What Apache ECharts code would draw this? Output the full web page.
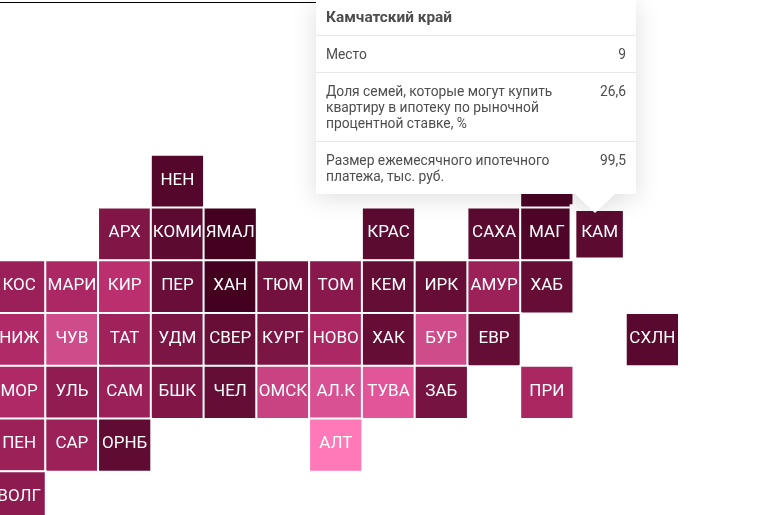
<!DOCTYPE html>
<html>
<head>
<meta charset="utf-8">
<script src="https://cdn.jsdelivr.net/npm/echarts@6/dist/echarts.min.js"></script>
<style>
html, body { margin: 0; padding: 0; background: #fff; overflow: hidden; width: 774px; height: 515px; }
/* the tile map runs past the left and bottom edge of the page */
#chart { position: absolute; left: -20px; top: 0; width: 800px; height: 560px; }
</style>
</head>
<body>
<div id="chart"></div>
<script>
var columns = ['0', '1', '2', '3', '4', '5', '6', '7', '8', '9', '10', '11', '12'];
var rows = ['0', '1', '2', '3', '4', '5', '6'];

var row0Names = [null, null, null, 'НЕН', null, null, null, null, null, null, 'ЧУК'];
var row0Values = [null, null, null, 24.5, null, null, null, null, null, null, 22];
var row1Names = [null, null, 'АРХ', 'КОМИ', 'ЯМАЛ', null, null, 'КРАС', null, 'САХА', 'МАГ', 'КАМ'];
var row1Values = [null, null, 30.5, 26.6, 20, null, null, 26.5, null, 26.5, 23, 26.6];
var row2Names = ['КОС', 'МАРИ', 'КИР', 'ПЕР', 'ХАН', 'ТЮМ', 'ТОМ', 'КЕМ', 'ИРК', 'АМУР', 'ХАБ'];
var row2Values = [33.5, 37, 40, 28, 20, 29, 31.5, 27.5, 27.6, 34, 27.6];
var row3Names = ['НИЖ', 'ЧУВ', 'ТАТ', 'УДМ', 'СВЕР', 'КУРГ', 'НОВО', 'ХАК', 'БУР', 'ЕВР', null, null, 'СХЛН'];
var row3Values = [38, 46.7, 34.5, 30, 27.8, 30, 37, 27.6, 46.7, 27.5, null, null, 26];
var row4Names = ['МОР', 'УЛЬ', 'САМ', 'БШК', 'ЧЕЛ', 'ОМСК', 'АЛ.К', 'ТУВА', 'ЗАБ', null, 'ПРИ'];
var row4Values = [37.5, 32.3, 33.5, 30.5, 27.5, 44.5, 50, 53, 29.5, null, 36.5];
var row5Names = ['ПЕН', 'САР', 'ОРНБ', null, null, null, 'АЛТ'];
var row5Values = [34, 34, 27, null, null, null, 60];
var row6Names = ['ВОЛГ'];
var row6Values = [32];

var allNames = [row0Names, row1Names, row2Names, row3Names, row4Names, row5Names, row6Names];
var allValues = [row0Values, row1Values, row2Values, row3Values, row4Values, row5Values, row6Values];

var tipTitle = 'Камчатский край';
var tipLabels = ['Место', 'Доля семей, которые могут купить квартиру в ипотеку по рыночной процентной ставке, %', 'Размер ежемесячного ипотечного платежа, тыс. руб.'];
var tipValues = ['9', '26,6', '99,5'];

var cells = [];
allNames.forEach(function (names, r) {
    names.forEach(function (name, c) {
        if (name === null) { return; }
        var cell = { name: name, value: [c, r, allValues[r][c]] };
        // hovered tile is drawn a bit smaller
        if (name === 'КАМ') {
            cell.itemStyle = { borderWidth: 6.75, borderColor: '#fff' };
        }
        cells.push(cell);
    });
});

function tipHtml() {
    var html = '<div style="font-weight:700;font-size:15.4px;padding:8px 10px 9px 10px;line-height:18px;">' + tipTitle + '</div>';
    tipLabels.forEach(function (label, i) {
        html += '<div style="display:flex;justify-content:space-between;border-top:1px solid #e8e8e8;padding:10px 10px 10px 10px;line-height:16px;">'
            + '<div style="width:240px;white-space:normal;">' + label + '</div><div>' + tipValues[i] + '</div></div>';
    });
    html += '<div style="position:absolute;left:259px;top:194px;width:0;height:0;border-left:20.5px solid transparent;border-right:20.5px solid transparent;border-top:19px solid #fff;"></div>';
    return html;
}

var chart = echarts.init(document.getElementById('chart'));

var option = {
    animation: false,
    graphic: [{
        type: 'line',
        silent: true,
        shape: { x1: 20, y1: 2.5, x2: 340, y2: 2.5 },
        style: { stroke: '#000', lineWidth: 1 }
    }],
    grid: { left: 12.75, top: 155, width: 686, height: 369.25 },
    tooltip: {
        trigger: 'item',
        alwaysShowContent: true,
        transitionDuration: 0,
        padding: 0,
        borderWidth: 0,
        backgroundColor: '#fff',
        textStyle: { fontFamily: 'Roboto', fontSize: 13.8, color: '#4d4d4d' },
        extraCssText: 'width:320px;height:194px;border-radius:0;box-shadow:none;filter:drop-shadow(0 4px 12px rgba(0,0,0,0.13));',
        position: function () { return [336, 0]; },
        formatter: tipHtml
    },
    visualMap: {
        show: false,
        min: 20,
        max: 60,
        dimension: 2,
        inRange: { color: ['#44001f', '#5c0a30', '#9a1f57', '#bb2f6f', '#cf4c8b', '#e4559a', '#ff78b8'] }
    },
    xAxis: { type: 'category', data: columns, show: false, splitArea: { show: false } },
    yAxis: { type: 'category', data: rows, inverse: true, show: false, splitArea: { show: false } },
    series: [{
        type: 'heatmap',
        data: cells,
        itemStyle: { borderColor: '#fff', borderWidth: 2 },
        label: {
            show: true,
            formatter: '{b}',
            color: '#fff',
            fontFamily: 'Roboto',
            fontSize: 17,
            offset: [0, -1]
        },
        emphasis: { disabled: true }
    }]
};

chart.setOption(option);
var kamIndex = cells.findIndex(function (c) { return c.name === 'КАМ'; });
chart.dispatchAction({ type: 'showTip', seriesIndex: 0, dataIndex: kamIndex });
</script>
</body>
</html>
